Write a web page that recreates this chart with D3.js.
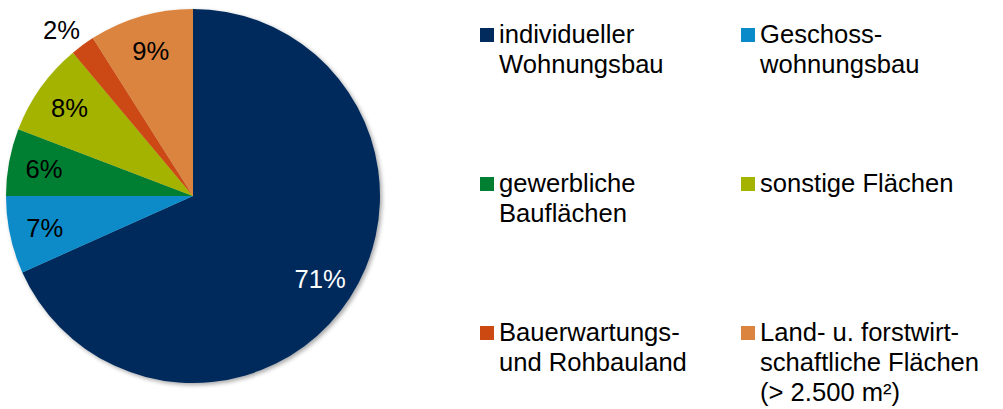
<!DOCTYPE html>
<html lang="de">
<head>
    <meta charset="UTF-8">
    <title>Flächenanteile</title>
    <script src="https://d3js.org/d3.v7.min.js"></script>
    <style>
        body {
            margin: 0;
            background-color: white;
            font-family: "Liberation Sans", Arial, sans-serif;
        }
        svg text {
            font-size: 25.6px;
        }
    </style>
</head>
<body>
    <svg id="chart" width="1003" height="409"></svg>

    <script>
        // Data (slices start at 12 o'clock, clockwise)
        const categories = [
            ["individueller", "Wohnungsbau"],
            ["Geschoss-", "wohnungsbau"],
            ["gewerbliche", "Bauflächen"],
            ["sonstige Flächen"],
            ["Bauerwartungs-", "und Rohbauland"],
            ["Land- u. forstwirt-", "schaftliche Flächen", "(> 2.500 m²)"]
        ];
        const shares = [68.3, 6.7, 5.8, 8.1, 2.1, 9.0];
        const shareLabels = ["71%", "7%", "6%", "8%", "2%", "9%"];
        const colors = ["#002B5C", "#0A8AC8", "#007F32", "#A3B300", "#CC4A12", "#DB843F"];

        const svg = d3.select("#chart");
        const cx = 193, cy = 196, radius = 187;

        // soft shadow like the original
        const defs = svg.append("defs");
        defs.append("filter")
            .attr("id", "shadow")
            .attr("x", "-10%").attr("y", "-10%")
            .attr("width", "130%").attr("height", "130%")
            .append("feDropShadow")
            .attr("dx", 2).attr("dy", 2)
            .attr("stdDeviation", 2)
            .attr("flood-color", "#000")
            .attr("flood-opacity", 0.35);

        const pie = d3.pie().sort(null).value(d => d);
        const arcs = pie(shares);

        const arc = d3.arc().innerRadius(0).outerRadius(radius);
        const labelArc = d3.arc().innerRadius(radius * 0.81).outerRadius(radius * 0.81);
        const outerLabelArc = d3.arc().innerRadius(radius * 1.1).outerRadius(radius * 1.1);

        const pieGroup = svg.append("g")
            .attr("transform", `translate(${cx}, ${cy})`);

        pieGroup.append("g")
            .attr("filter", "url(#shadow)")
            .selectAll("path")
            .data(arcs)
            .enter()
            .append("path")
            .attr("d", arc)
            .attr("fill", (d, i) => colors[i]);

        // percentage labels (small slice gets its label outside)
        pieGroup.selectAll(".pct")
            .data(arcs)
            .enter()
            .append("text")
            .attr("class", "pct")
            .attr("transform", (d, i) => {
                const c = shares[i] < 3 ? outerLabelArc.centroid(d) : labelArc.centroid(d);
                const dx = shares[i] < 3 ? -10 : 0;
                return `translate(${c[0] + dx}, ${c[1]})`;
            })
            .attr("text-anchor", "middle")
            .attr("dy", "0.36em")
            .attr("fill", (d, i) => i === 0 ? "#fff" : "#000")
            .text((d, i) => shareLabels[i]);

        // legend: two columns, three rows
        const colX = [480, 741];
        const rowY = [28, 177, 326];
        const lineHeight = 30;

        const legend = svg.append("g");
        categories.forEach((lines, i) => {
            const x = colX[i % 2];
            const y = rowY[Math.floor(i / 2)];
            const item = legend.append("g").attr("transform", `translate(${x}, ${y})`);
            item.append("rect")
                .attr("width", 14)
                .attr("height", 14)
                .attr("fill", colors[i]);
            const t = item.append("text")
                .attr("x", 19)
                .attr("y", 15)
                .attr("fill", "#000");
            lines.forEach((line, j) => {
                t.append("tspan")
                    .attr("x", 19)
                    .attr("dy", j === 0 ? 0 : lineHeight)
                    .text(line);
            });
        });
    </script>
</body>
</html>
